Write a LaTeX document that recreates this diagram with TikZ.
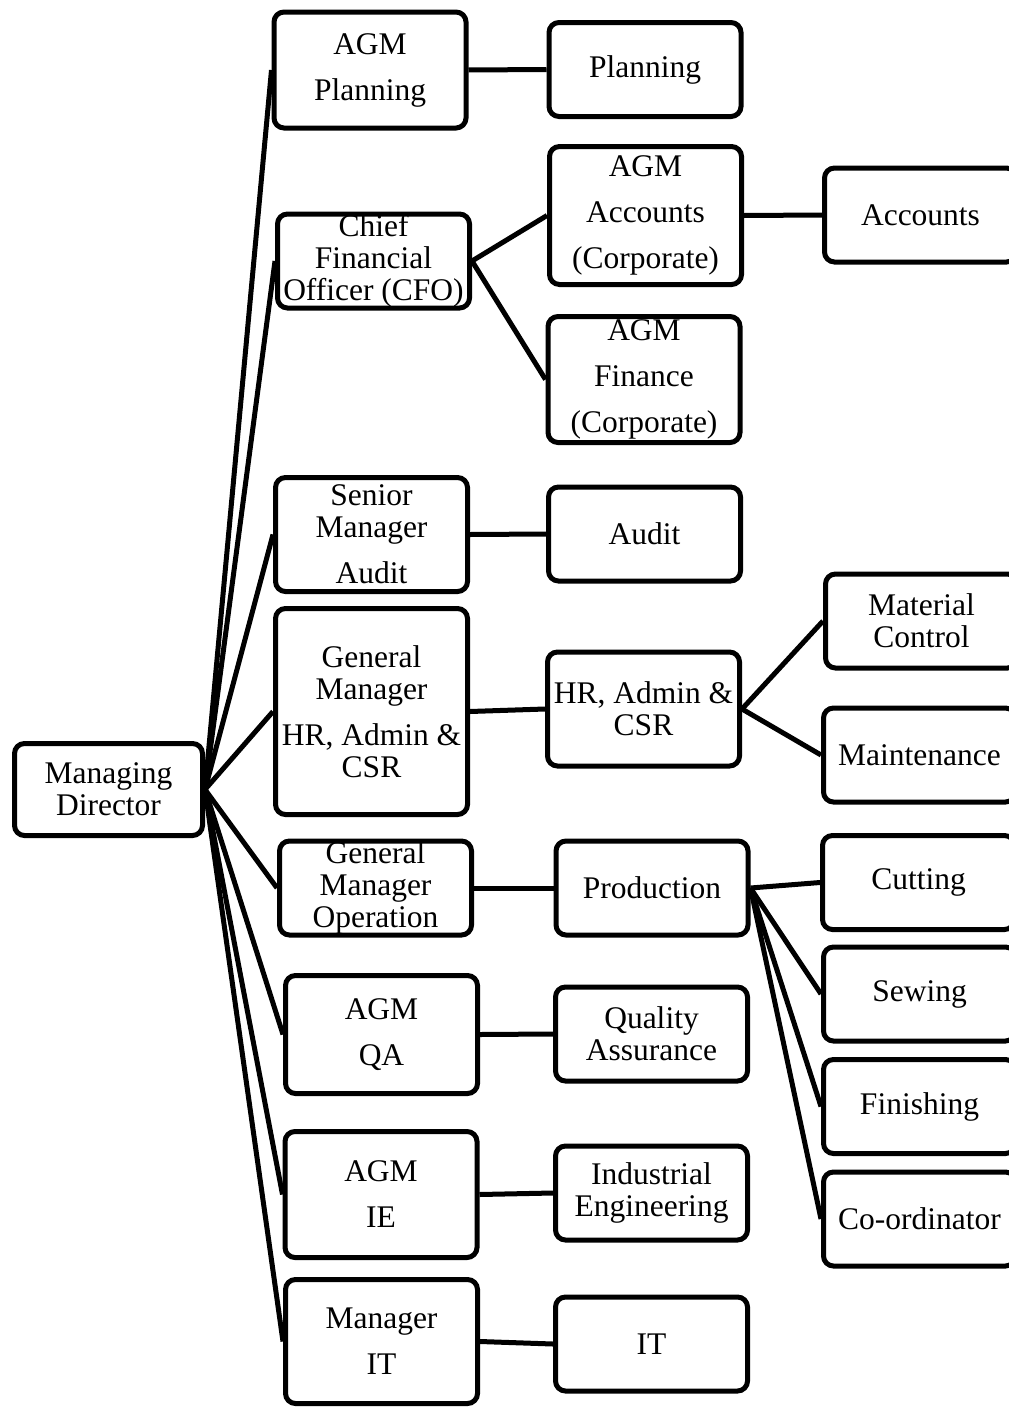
\documentclass[tikz,border=0pt]{standalone}
\usepackage{fontspec}
\setmainfont{Liberation Serif}
\begin{document}
\begin{tikzpicture}[x=0.5pt,y=-0.5pt,
  unitbox/.style={draw,line width=2.5pt,rounded corners=5pt,inner sep=0pt,
    minimum width=96pt,minimum height=47pt,align=center,
    font=\fontsize{15.75}{16}\selectfont},
  link/.style={line width=2.5pt}]
\useasboundingbox (0,0) rectangle (1008,1408);
% top level
\node[unitbox,minimum width=94pt,minimum height=46pt] (md) at (108.5,789.5) {Managing\\Director};
% second level
\node[unitbox,minimum height=58pt] (agmplan) at (370,70) {AGM\\[7pt]Planning};
\node[unitbox] (cfo) at (373.5,261) {Chief\\Financial\\Officer (CFO)};
\node[unitbox,minimum height=57pt] (smaudit) at (371.5,534.5) {Senior\\Manager\\[7pt]Audit};
\node[unitbox,minimum height=103pt] (gmhr) at (371.5,711.5) {General\\Manager\\[7pt]HR, Admin \&\\CSR};
\node[unitbox] (gmop) at (375.5,888) {General\\Manager\\Operation};
\node[unitbox,minimum height=59pt] (agmqa) at (381.5,1034.5) {AGM\\[7pt]QA};
\node[unitbox,minimum height=63pt] (agmie) at (381,1194.5) {AGM\\[7pt]IE};
\node[unitbox,minimum height=62pt] (mgrit) at (381.5,1341.5) {Manager\\[7pt]IT};
% third level
\node[unitbox] (plan) at (645,69.5) {Planning};
\node[unitbox,minimum height=69pt] (agmacc) at (645.5,215.5) {AGM\\[7pt]Accounts\\[7pt](Corporate)};
\node[unitbox,minimum height=63pt] (agmfin) at (644,379.5) {AGM\\[7pt]Finance\\[7pt](Corporate)};
\node[unitbox] (audit) at (644.5,534) {Audit};
\node[unitbox,minimum height=57pt] (hradmin) at (643.5,709) {HR, Admin \&\\CSR};
\node[unitbox] (prod) at (652,888) {Production};
\node[unitbox] (qa) at (651.5,1034) {Quality\\Assurance};
\node[unitbox] (ie) at (651.5,1193) {Industrial\\Engineering};
\node[unitbox] (it) at (651.5,1344) {IT};
% fourth level
\node[unitbox] (acc) at (920.5,215) {Accounts};
\node[unitbox] (matctl) at (921.5,621) {Material\\Control};
\node[unitbox] (maint) at (919.5,755) {Maintenance};
\node[unitbox] (cut) at (918.5,882.5) {Cutting};
\node[unitbox] (sew) at (919.5,994) {Sewing};
\node[unitbox] (fin) at (919.5,1106.5) {Finishing};
\node[unitbox] (coord) at (919.5,1219) {Co-ordinator};
% connectors
\foreach \n in {agmplan,cfo,smaudit,gmhr,gmop,agmqa,agmie,mgrit}
  \draw[link] (md.east) -- (\n.west);
\foreach \a/\b in {agmplan/plan, cfo/agmacc, cfo/agmfin, agmacc/acc, smaudit/audit,
    gmhr/hradmin, hradmin/matctl, hradmin/maint, gmop/prod, agmqa/qa, agmie/ie, mgrit/it}
  \draw[link] (\a.east) -- (\b.west);
\foreach \n in {cut,sew,fin,coord}
  \draw[link] (prod.east) -- (\n.west);
\end{tikzpicture}
\end{document}
